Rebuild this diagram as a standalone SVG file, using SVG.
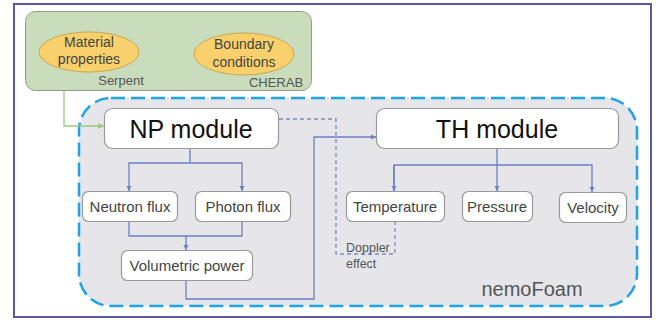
<svg xmlns="http://www.w3.org/2000/svg" width="666" height="325" viewBox="0 0 666 325">
<style>
.sm{font-family:"Liberation Sans","Open Sans",sans-serif;fill:#444;font-size:15px;text-anchor:middle}
.el{font-family:"Liberation Sans","Open Sans",sans-serif;fill:#444;font-size:14px;text-anchor:middle}
.big{font-family:"Liberation Sans",Arial,sans-serif;fill:#111;font-size:25px;text-anchor:middle}
.lbl{font-family:"Liberation Sans","Open Sans",sans-serif;fill:#555;font-size:12.5px}
.box{fill:#fff;stroke:#999;stroke-width:1.2}
.ell{fill:#f8d06c;stroke:#c8a858;stroke-width:1}
.conn{fill:none;stroke:#6b80c6;stroke-width:1.3}
</style>
<defs>
<marker id="ab" viewBox="0 0 6 6" refX="6" refY="3" markerWidth="4" markerHeight="4" orient="auto"><path d="M0,0 L6,3 L0,6 z" fill="#6b80c6"/></marker>
<marker id="ag" viewBox="0 0 6 6" refX="6" refY="3" markerWidth="5" markerHeight="5" orient="auto"><path d="M0,0 L6,3 L0,6 z" fill="#9cc880"/></marker>
</defs>
<rect x="0" y="0" width="666" height="325" fill="#fff"/>
<rect x="14" y="4" width="637" height="313" fill="#fff" stroke="#5a5aa8" stroke-width="2"/>
<g id="inputs">
<rect x="25.5" y="11.5" width="286" height="79" rx="10" fill="#c9dcbb" stroke="#8f9d88" stroke-width="1"/>
<text class="lbl" x="121" y="85" text-anchor="middle" style="font-size:13px">Serpent</text>
<text class="lbl" x="276" y="87" text-anchor="middle" style="font-size:13px">CHERAB</text>
</g>
<g id="material">
<ellipse class="ell" cx="89" cy="52" rx="50" ry="20"/>
<text class="el" x="89" y="47">Material</text>
<text class="el" x="89" y="64">properties</text>
</g>
<g id="boundary">
<ellipse class="ell" cx="244" cy="54" rx="50" ry="21"/>
<text class="el" x="244" y="49">Boundary</text>
<text class="el" x="244" y="67">conditions</text>
</g>
<g id="nemoFoam">
<rect x="79" y="98" width="558" height="208" rx="32" fill="#e5e5ea" stroke="#1ea4e6" stroke-width="2.5" stroke-dasharray="14 6"/>
<text class="lbl" x="532" y="296" text-anchor="middle" style="font-size:20px">nemoFoam</text>
</g>
<g id="connectors">
<path d="M64,91 V126 H104" fill="none" stroke="#9cc880" stroke-width="1.3" marker-end="url(#ag)"/>
<path class="conn" d="M190,148 V163 H129 V191" marker-end="url(#ab)"/>
<path class="conn" d="M190,163 H242 V191" marker-end="url(#ab)"/>
<path class="conn" d="M129,221 V236 H242 V221"/>
<path class="conn" d="M186,236 V250" marker-end="url(#ab)"/>
<path class="conn" d="M186,281 V299 H314 V137 H376" marker-end="url(#ab)"/>
<path d="M279,119 H336 V254 H395 V222" fill="none" stroke="#7b8cc4" stroke-width="1.3" stroke-dasharray="4 3"/>
<path class="conn" d="M497,148 V191" marker-end="url(#ab)"/>
<path class="conn" d="M394,191 V165 H592 V192" marker-end="url(#ab)"/>
<path class="conn" d="M394,165 V191" marker-end="url(#ab)"/>
</g>
<g id="doppler">
<text class="lbl" x="346" y="252">Doppler</text>
<text class="lbl" x="346" y="268">effect</text>
</g>
<g id="np">
<rect class="box" x="104.5" y="108.5" width="174" height="40" rx="8"/>
<text class="big" x="191" y="138">NP module</text>
</g>
<g id="th">
<rect class="box" x="376.5" y="108.5" width="242" height="40" rx="8"/>
<text class="big" x="497" y="138">TH module</text>
</g>
<g id="neutron">
<rect class="box" x="82.5" y="191.5" width="95" height="30" rx="6"/>
<text class="sm" x="130" y="211.5">Neutron flux</text>
</g>
<g id="photon">
<rect class="box" x="195.5" y="191.5" width="95" height="30" rx="6"/>
<text class="sm" x="243" y="211.5">Photon flux</text>
</g>
<g id="volumetric">
<rect class="box" x="121.5" y="250.5" width="131" height="30" rx="6"/>
<text class="sm" x="187" y="270.5">Volumetric power</text>
</g>
<g id="temperature">
<rect class="box" x="346.5" y="191.5" width="98" height="30" rx="6"/>
<text class="sm" x="395" y="211.5">Temperature</text>
</g>
<g id="pressure">
<rect class="box" x="462.5" y="191.5" width="70" height="30" rx="6"/>
<text class="sm" x="497" y="211.5">Pressure</text>
</g>
<g id="velocity">
<rect class="box" x="559.5" y="192.5" width="67" height="30" rx="6"/>
<text class="sm" x="593" y="212.5">Velocity</text>
</g>
</svg>
